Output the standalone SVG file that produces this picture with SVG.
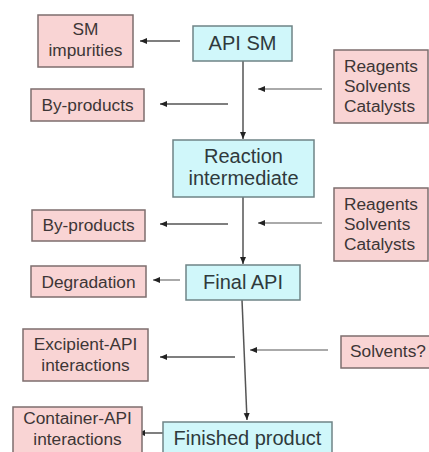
<svg xmlns="http://www.w3.org/2000/svg" width="429" height="452" viewBox="0 0 429 452">
<defs>
<style>
.p{fill:#f9d4d4;stroke:#7d6e6e;stroke-width:1.5}
.c{fill:#d0f7fa;stroke:#6f8486;stroke-width:1.5}
.t{font-family:"Liberation Sans",Arial,sans-serif;font-size:17.3px;fill:#3d3636}
.T{font-family:"Liberation Sans",Arial,sans-serif;font-size:20px;fill:#2f3a3c}
.m{text-anchor:middle}
.d{stroke:#555;stroke-width:1.5;fill:none}
.l{stroke:#aaa;stroke-width:2;fill:none}
</style>
<marker id="ah" markerWidth="8" markerHeight="8" refX="7" refY="4" orient="auto" markerUnits="userSpaceOnUse">
<path d="M0,1 L7,4 L0,7 z" fill="#222"/>
</marker>
</defs>
<rect width="429" height="452" fill="#fff"/>
<g id="connectors">
<line class="d" x1="243" y1="61" x2="243" y2="139" marker-end="url(#ah)"/>
<line class="d" x1="243" y1="197" x2="243" y2="264" marker-end="url(#ah)"/>
<line class="d" x1="242" y1="300" x2="247" y2="420" marker-end="url(#ah)"/>
<line class="d" x1="180" y1="41" x2="140" y2="41" marker-end="url(#ah)"/>
<line class="d" x1="228" y1="104" x2="160" y2="104" marker-end="url(#ah)"/>
<line class="l" x1="322" y1="89" x2="258" y2="89" marker-end="url(#ah)"/>
<line class="d" x1="228" y1="224" x2="160" y2="224" marker-end="url(#ah)"/>
<line class="l" x1="322" y1="223" x2="258" y2="223" marker-end="url(#ah)"/>
<line class="l" x1="180" y1="280" x2="153" y2="280" marker-end="url(#ah)"/>
<line class="d" x1="235" y1="357" x2="160" y2="357" marker-end="url(#ah)"/>
<line class="l" x1="328" y1="350" x2="250" y2="350" marker-end="url(#ah)"/>
<line class="d" x1="163" y1="433" x2="138" y2="433" marker-end="url(#ah)"/>
</g>
<g id="sm-impurities"><rect class="p" x="38" y="15" width="95" height="52"/><text class="t m" x="85.5" y="35">SM</text><text class="t m" x="85.5" y="56">impurities</text></g>
<g id="api-sm"><rect class="c" x="193" y="26" width="99" height="35"/><text class="T m" x="242.5" y="50">API SM</text></g>
<g id="byproducts-1"><rect class="p" x="31" y="89" width="113" height="32"/><text class="t m" x="87.5" y="111">By-products</text></g>
<g id="reagents-1"><rect class="p" x="334" y="50" width="94" height="73"/><text class="t" x="344" y="72">Reagents</text><text class="t" x="344" y="92">Solvents</text><text class="t" x="344" y="112">Catalysts</text></g>
<g id="reaction-intermediate"><rect class="c" x="173" y="140" width="141" height="57"/><text class="T m" x="243.5" y="163">Reaction</text><text class="T m" x="243.5" y="185">intermediate</text></g>
<g id="byproducts-2"><rect class="p" x="32" y="210" width="113" height="31"/><text class="t m" x="88.5" y="231">By-products</text></g>
<g id="reagents-2"><rect class="p" x="334" y="188" width="94" height="73"/><text class="t" x="344" y="210">Reagents</text><text class="t" x="344" y="230">Solvents</text><text class="t" x="344" y="250">Catalysts</text></g>
<g id="degradation"><rect class="p" x="31" y="266" width="115" height="31"/><text class="t m" x="88.5" y="288">Degradation</text></g>
<g id="final-api"><rect class="c" x="186" y="265" width="114" height="35"/><text class="T m" x="243" y="289">Final API</text></g>
<g id="excipient-api"><rect class="p" x="23" y="329" width="125" height="52"/><text class="t m" x="85.5" y="350">Excipient-API</text><text class="t m" x="85.5" y="371">interactions</text></g>
<g id="solvents"><rect class="p" x="341" y="336" width="94" height="32"/><text class="t" x="350" y="357">Solvents?</text></g>
<g id="container-api"><rect class="p" x="13" y="407" width="129" height="52"/><text class="t m" x="77.5" y="424">Container-API</text><text class="t m" x="77.5" y="445">interactions</text></g>
<g id="finished-product"><rect class="c" x="163" y="422" width="169" height="40"/><text class="T m" x="247.5" y="445">Finished product</text></g>
</svg>
